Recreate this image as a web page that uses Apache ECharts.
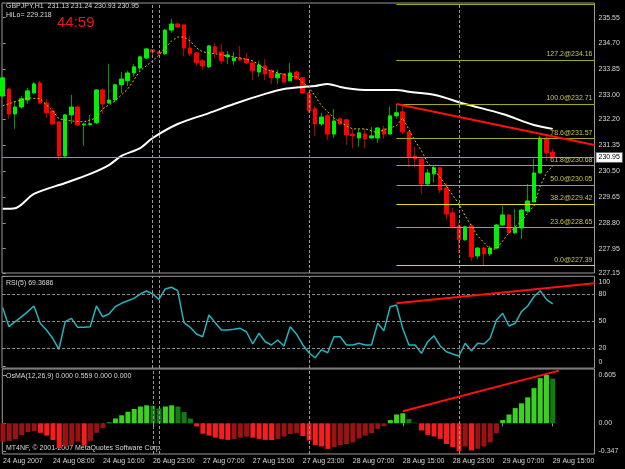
<!DOCTYPE html>
<html>
<head>
<meta charset="utf-8">
<title>GBPJPY,H1</title>
<script src="https://cdn.jsdelivr.net/npm/echarts@6/dist/echarts.min.js"></script>
<style>
html, body { margin: 0; padding: 0; background: #000; }
#main { width: 625px; height: 469px; }
</style>
</head>
<body>
<div id="main"></div>
<script>
// hourly bars, index 0 = 24 Aug 2007 00:00, last = 29 Aug 15:00
var open = [232.97,233.20,232.38,232.61,232.84,233.07,233.40,232.74,232.48,232.12,
231.00,232.35,232.61,232.02,232.03,232.09,233.17,232.74,232.84,233.34,
233.47,233.73,233.89,234.22,234.49,234.42,234.36,235.14,235.34,235.31,
234.55,234.39,234.13,233.93,234.59,234.42,234.26,234.13,234.22,234.19,
234.06,233.76,233.96,233.80,233.57,233.70,233.47,233.76,233.57,233.07,
232.55,232.05,232.32,231.72,232.22,232.19,231.72,231.59,231.72,231.59,
231.59,231.89,231.72,232.32,232.45,231.79,231.00,230.90,230.08,230.41,
230.61,229.95,229.13,228.70,228.24,228.70,227.71,227.97,227.78,227.97,
228.73,229.06,228.47,228.63,229.19,229.49,230.44,231.59,231.13];
var high = [233.63,233.24,232.81,232.97,233.24,233.43,233.47,232.88,232.58,232.15,
232.38,233.01,232.65,232.09,232.35,233.20,233.24,234.03,233.37,233.76,
233.80,234.03,234.29,234.55,234.52,234.45,235.18,235.51,235.38,235.31,
234.95,234.42,234.19,234.65,234.72,234.68,234.45,234.42,234.62,234.39,
234.13,234.13,234.19,233.86,233.83,233.73,234.06,233.80,233.60,233.11,
232.65,232.42,232.38,232.55,232.28,232.22,231.89,231.89,231.89,231.95,
231.95,231.99,232.62,232.71,232.68,231.82,231.30,230.94,230.57,230.67,
230.64,230.11,229.29,228.80,228.70,228.76,228.01,228.01,228.04,228.76,
229.36,229.09,229.26,229.26,230.08,230.90,231.66,231.66,231.24];
var low = [232.94,232.22,231.89,232.55,232.71,233.04,232.71,232.25,232.02,230.87,
230.97,232.05,231.99,231.33,232.00,232.05,232.38,232.71,232.81,233.07,
233.30,233.60,233.80,234.19,234.29,234.32,234.32,235.05,235.22,234.29,
234.29,233.96,233.83,233.90,234.22,234.03,234.03,233.99,234.13,234.03,
233.50,233.60,233.50,233.37,233.37,233.40,233.47,233.50,233.04,232.42,
231.66,231.99,231.53,231.59,232.02,231.36,231.26,231.30,231.26,231.56,
231.43,231.56,231.72,232.22,231.72,230.64,230.61,229.75,230.01,230.12,
229.78,228.90,228.60,227.81,228.21,227.55,227.61,227.39,227.71,227.94,
228.70,228.44,228.44,228.27,229.13,229.46,230.41,230.84,230.93];
var close = [233.57,232.38,232.61,232.88,233.14,233.37,232.74,232.42,232.05,231.00,
232.35,232.61,232.02,232.05,232.06,233.17,232.71,232.84,233.34,233.53,
233.73,233.93,234.26,234.52,234.42,234.36,235.14,235.34,235.24,234.55,
234.36,234.06,233.96,234.62,234.39,234.13,234.32,234.22,234.16,234.06,
233.80,233.99,233.70,233.57,233.70,233.43,233.73,233.53,233.07,232.48,
232.05,232.28,231.72,232.15,232.05,231.69,231.66,231.76,231.56,231.66,
231.92,231.72,232.32,232.42,231.79,230.97,230.90,230.08,230.44,230.61,
229.88,229.09,228.67,228.24,228.67,227.68,227.97,227.78,227.97,228.73,
229.06,228.47,228.63,229.22,229.52,230.44,231.59,231.10,230.95];

// moving averages as [bar, price]
var maSlow = [[0,229.26],[2,229.28],[5,229.75],[10,230.11],[14,230.41],[17,230.70],[19,231.00],
  [22,231.26],[24,231.59],[28,232.05],[33,232.41],[37,232.71],[42,233.04],[45,233.20],[48,233.27],
  [50,233.30],[52,233.37],[54,233.27],[56,233.20],[58,233.17],[63,233.17],[65,233.11],[69,233.01],
  [74,232.71],[80,232.38],[85,232.02],[88,231.89]];
var maFast = [[0,232.65],[4,232.91],[6,232.88],[8,232.48],[9,232.22],[11,232.15],[13,232.12],
  [15,232.25],[16,232.55],[18,232.81],[20,233.20],[22,233.80],[24,234.13],[25,234.32],[27,234.78],
  [28,234.91],[29,234.91],[30,234.78],[31,234.55],[32,234.42],[34,234.36],[36,234.29],[38,234.22],
  [40,234.13],[42,233.86],[44,233.73],[46,233.63],[47,233.60],[49,233.24],[50,232.97],[51,232.65],
  [53,232.25],[55,231.99],[56,231.89],[58,231.89],[60,231.76],[61,231.86],[63,231.99],[64,232.25],
  [66,231.49],[67,231.17],[68,230.77],[69,230.57],[71,230.01],[73,229.42],[74,229.03],[76,228.37],
  [78,227.94],[79,227.94],[81,228.47],[83,228.86],[85,229.36],[86,230.01],[87,230.44],[88,230.67]];

var rsi = [65.2,44,49.6,55,60.7,67,47.8,40.3,31.1,18.9,
49.6,53.3,43.3,43.3,44,67,55,58.1,66.2,70,
72.9,75.5,80.3,83.7,80.3,74.4,85.9,87.8,84,48.5,
43.3,35.9,32.9,57,48.5,40.3,40.3,41.1,42.2,38.4,
24.8,36.7,27.3,23.7,29.2,22.6,44,35.9,24,15,
9.5,18.5,15.1,32.9,32.9,23.7,23.7,25.6,23.7,23.7,
47.8,39.6,66.2,68.1,42.2,23.7,23.7,14.4,27.3,34,
22.6,16.2,13.7,11.4,25.6,17.3,25.6,24.8,31.1,51.4,
58.9,44.8,47.8,60.7,67,77.3,84,74.4,69.4];

var osma = [-0.23,-0.22,-0.20,-0.15,-0.11,-0.10,-0.12,-0.155,-0.21,-0.31,
-0.29,-0.27,-0.23,-0.28,-0.22,-0.12,-0.06,0.01,0.06,0.10,
0.145,0.18,0.21,0.225,0.22,0.185,0.21,0.225,0.21,0.14,
0.06,-0.04,-0.13,-0.155,-0.18,-0.196,-0.208,-0.196,-0.18,-0.166,
-0.18,-0.196,-0.208,-0.21,-0.196,-0.166,-0.135,-0.124,-0.16,-0.215,
-0.275,-0.29,-0.32,-0.30,-0.275,-0.26,-0.24,-0.19,-0.155,-0.125,
-0.07,-0.035,0.04,0.11,0.125,0.055,0.006,-0.09,-0.145,-0.165,
-0.195,-0.26,-0.30,-0.347,-0.29,-0.34,-0.32,-0.29,-0.24,-0.125,
0.04,0.11,0.19,0.25,0.325,0.44,0.565,0.605,0.559];

// fibonacci retracement
var fibLevels = [0, 23.6, 38.2, 50, 61.8, 78.6, 100, 127.2, 161.8];
var fibPrices = [227.39, 228.65, 229.42, 230.05, 230.68, 231.57, 232.71, 234.16, 236.00];

// tick labels
var priceTicks = [235.55, 234.70, 233.85, 233.00, 232.20, 231.35, 230.50, 229.65, 228.80, 227.95, 227.15];
var rsiTicks = [0, 20, 50, 80, 100];
var osmaTicks = [0.605, 0, -0.347];
var osmaTickText = ['0.605', '0.00', '-0.347'];
var timeTickBars = [0, 8, 16, 24, 32, 40, 48, 56, 64, 72, 80, 88];
var timeTickText = ['24 Aug 2007', '24 Aug 08:00', '24 Aug 16:00', '26 Aug 23:00', '27 Aug 07:00', '27 Aug 15:00',
  '27 Aug 23:00', '28 Aug 07:00', '28 Aug 15:00', '28 Aug 23:00', '29 Aug 07:00', '29 Aug 15:00'];
var daySeparators = [24, 25, 49, 73];

var lastPrice = 230.95;
var priceTrend = [[63, 232.71], [94.69, 231.36]];
var rsiTrend = [[63, 70], [94.69, 92.2]];
var osmaTrend = [[64, 0.15], [89, 0.66]];

var X_MIN = -0.112, X_MAX = 94.69;
var FONT = '"Liberation Sans", Arial, sans-serif';
var TXT = '#d8d8d8';
var GRAY = '#9a9a9a';

var wicks = [], bodies = [];
for (var i = 0; i < open.length; i++) {
    wicks.push([i, open[i], close[i], low[i], high[i]]);
    bodies.push([i, open[i], close[i], Math.min(open[i], close[i]), Math.max(open[i], close[i])]);
}
var rsiData = rsi.map(function (v, i) { return [i, v]; });
var osmaData = osma.map(function (v, i) { return [i, v]; });

var sepLines = daySeparators.map(function (b) { return { xAxis: b }; });
var sepStyle = { color: GRAY, type: [3, 2], width: 1 };

var mainLines = sepLines.map(function (d) { return { xAxis: d.xAxis, lineStyle: sepStyle, label: { show: false } }; });
fibLevels.forEach(function (lv, k) {
    var bright = (lv === 0 || lv === 38.2);
    mainLines.push([
        { coord: [63, fibPrices[k]],
          lineStyle: { color: bright ? '#e0e000' : '#a8a810', type: 'solid', width: 1 },
          label: { show: lv !== 161.8, position: 'insideEndTop', distance: 2,
                   formatter: lv.toFixed(1) + '@' + fibPrices[k].toFixed(2),
                   color: '#c8c848', fontSize: 7, fontFamily: FONT } },
        { coord: [X_MAX, fibPrices[k]] }
    ]);
});
mainLines.push([
    { coord: priceTrend[0], lineStyle: { color: '#ff1010', width: 2, type: 'solid' }, label: { show: false } },
    { coord: priceTrend[1] }
]);
mainLines.push({
    yAxis: lastPrice,
    lineStyle: { color: '#8a96a4', width: 1, type: 'solid' },
    label: { show: true, position: 'end', distance: 2, formatter: lastPrice.toFixed(2),
             backgroundColor: '#ffffff', borderColor: '#606060', borderWidth: 1,
             color: '#000', padding: [1, 2], fontSize: 7, fontFamily: FONT }
});

var rsiLines = sepLines.map(function (d) { return { xAxis: d.xAxis, lineStyle: sepStyle }; });
[20, 50, 80].forEach(function (v) {
    rsiLines.push({ yAxis: v, lineStyle: { color: '#8c8c8c', type: [3, 2], width: 1 } });
});
rsiLines.push([
    { coord: rsiTrend[0], lineStyle: { color: '#ff1010', width: 2, type: 'solid' } },
    { coord: rsiTrend[1] }
]);

var osmaLines = sepLines.map(function (d) { return { xAxis: d.xAxis, lineStyle: sepStyle }; });
osmaLines.push([
    { coord: osmaTrend[0], lineStyle: { color: '#ff1010', width: 2, type: 'solid' } },
    { coord: osmaTrend[1] }
]);

function grid(top, height) {
    return { left: 2, top: top, width: 592.5, height: height, show: true,
             borderColor: GRAY, borderWidth: 1, backgroundColor: 'transparent' };
}
function xAxis(idx, labels) {
    return {
        type: 'value', gridIndex: idx, min: X_MIN, max: X_MAX,
        axisLine: { show: false }, splitLine: { show: false },
        axisTick: { show: labels, customValues: timeTickBars, length: 3, lineStyle: { color: GRAY } },
        axisLabel: { show: labels, customValues: timeTickBars, align: 'left', margin: 4,
                     color: TXT, fontSize: 7, fontFamily: FONT,
                     formatter: function (v) { var k = timeTickBars.indexOf(v); return k < 0 ? '' : timeTickText[k]; } }
    };
}

var chart = echarts.init(document.getElementById('main'), null, { renderer: 'canvas' });
chart.setOption({
    backgroundColor: '#000000',
    animation: false,
    grid: [grid(3, 270), grid(276.3, 91.8), grid(369, 85)],
    xAxis: [xAxis(0, false), xAxis(1, false), xAxis(2, true)],
    yAxis: [
        { type: 'value', gridIndex: 0, position: 'right', min: 227.15, max: 236.03,
          splitLine: { show: false }, axisLine: { show: false },
          axisTick: { show: true, customValues: priceTicks, length: 3, lineStyle: { color: GRAY } },
          axisLabel: { customValues: priceTicks, margin: 4, color: TXT, fontSize: 7, fontFamily: FONT,
                       formatter: function (v) { return v.toFixed(2); } } },
        { type: 'value', gridIndex: 1, position: 'right', min: -2, max: 100,
          splitLine: { show: false }, axisLine: { show: false },
          axisTick: { show: true, customValues: rsiTicks, length: 3, lineStyle: { color: GRAY } },
          axisLabel: { customValues: rsiTicks, margin: 4, color: TXT, fontSize: 7, fontFamily: FONT,
                       formatter: function (v) {
                           if (v === 100) return '{top|100}';
                           if (v === 0) return '{bot|0}';
                           return String(v);
                       },
                       rich: { top: { padding: [11, 0, 0, 0], color: TXT, fontSize: 7, fontFamily: FONT },
                               bot: { padding: [0, 0, 9, 0], color: TXT, fontSize: 7, fontFamily: FONT } } } },
        { type: 'value', gridIndex: 2, position: 'right', min: -0.385, max: 0.68,
          splitLine: { show: false }, axisLine: { show: false },
          axisTick: { show: true, customValues: osmaTicks, length: 3, lineStyle: { color: GRAY } },
          axisLabel: { customValues: osmaTicks, margin: 4, color: TXT, fontSize: 7, fontFamily: FONT,
                       formatter: function (v) { var k = osmaTicks.indexOf(v); return k < 0 ? '' : osmaTickText[k]; } } }
    ],
    series: [
        { name: 'wick', type: 'candlestick', xAxisIndex: 0, yAxisIndex: 0, data: wicks, barWidth: 1,
          itemStyle: { color: '#009a00', color0: '#b40000', borderColor: '#009a00', borderColor0: '#b40000', borderWidth: 1 } },
        { name: 'MA slow', type: 'line', xAxisIndex: 0, yAxisIndex: 0, data: maSlow, showSymbol: false,
          smooth: 0.3, lineStyle: { color: '#ffffff', width: 2 } },
        { name: 'MA fast', type: 'line', xAxisIndex: 0, yAxisIndex: 0, data: maFast, showSymbol: false,
          lineStyle: { color: '#c8c800', width: 1, type: [2, 2] } },
        { name: 'body', type: 'candlestick', xAxisIndex: 0, yAxisIndex: 0, data: bodies, barWidth: 4,
          itemStyle: { color: '#00f000', color0: '#ff0000', borderColor: '#00f000', borderColor0: '#ff0000', borderWidth: 1 },
          markLine: { symbol: 'none', silent: true, animation: false, data: mainLines } },
        { name: 'RSI(5)', type: 'line', xAxisIndex: 1, yAxisIndex: 1, data: rsiData, showSymbol: false,
          lineStyle: { color: '#22b4c0', width: 1.5 },
          markLine: { symbol: 'none', silent: true, label: { show: false }, data: rsiLines } },
        { name: 'OsMA', type: 'bar', xAxisIndex: 2, yAxisIndex: 2, data: osmaData, barWidth: 5,
          itemStyle: { color: function (p) {
              var k = p.dataIndex, v = osma[k], prev = k > 0 ? osma[k - 1] : v;
              if (v >= 0) return v > prev ? '#3ad21e' : '#0e7e0e';
              return v < prev ? '#f81c1c' : '#9a1212';
          } },
          markLine: { symbol: 'none', silent: true, label: { show: false }, data: osmaLines } }
    ],
    graphic: [
        { type: 'text', left: 6, top: 3, style: { text: 'GBPJPY,H1  231.13 231.24 230.93 230.95', fill: TXT, font: '7px ' + FONT } },
        { type: 'text', left: 6, top: 12, style: { text: 'HiLo= 229.218', fill: TXT, font: '7px ' + FONT } },
        { type: 'text', left: 57, top: 15, style: { text: '44:59', fill: '#e81818', font: '15px ' + FONT } },
        { type: 'text', left: 6, top: 280, style: { text: 'RSI(5) 69.3686', fill: TXT, font: '7px ' + FONT } },
        { type: 'text', left: 6, top: 373, style: { text: 'OsMA(12,26,9) 0.000 0.559 0.000 0.000', fill: TXT, font: '7px ' + FONT } },
        { type: 'text', left: 6, top: 445, style: { text: 'MT4NF, \u00a9 2001-2007 MetaQuotes Software Corp.', fill: TXT, font: '7px ' + FONT } }
    ]
});
</script>
</body>
</html>
